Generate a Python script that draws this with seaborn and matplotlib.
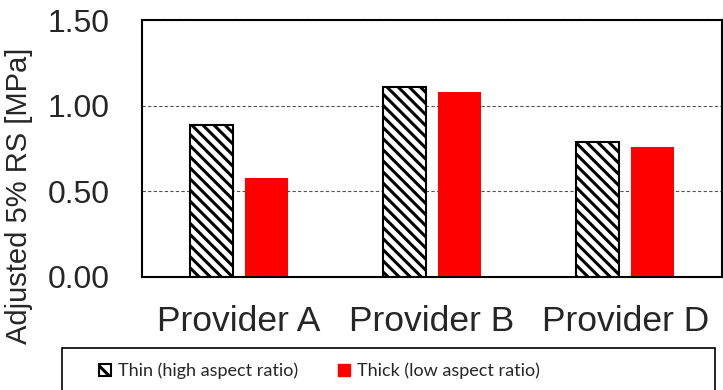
import matplotlib
matplotlib.use('Agg')
import matplotlib.pyplot as plt
import seaborn as sns
import pandas as pd
from matplotlib.patches import Patch, Rectangle

# values
providers = ['Provider A', 'Provider B', 'Provider D']
thin_vals = [0.89, 1.11, 0.79]
thick_vals = [0.58, 1.08, 0.76]
series = ['Thin (high aspect ratio)', 'Thick (low aspect ratio)']
y_ticks = [0.0, 0.5, 1.0, 1.5]


def build_frame():
    rows = []
    for p, a, b in zip(providers, thin_vals, thick_vals):
        rows.append({'provider': p, 'type': series[0], 'value': a})
        rows.append({'provider': p, 'type': series[1], 'value': b})
    return pd.DataFrame(rows)


def main():
    sns.set_style('white')
    plt.rcParams['font.family'] = ['Liberation Sans', 'DejaVu Sans']
    plt.rcParams['hatch.linewidth'] = 2.2

    df = build_frame()
    fig = plt.figure(figsize=(7.23, 3.90), dpi=100)
    ax = fig.add_axes([142 / 723, 1 - 277 / 390, 580 / 723, 257 / 390])

    sns.barplot(ax=ax, data=df, x='provider', y='value', hue='type',
                palette={series[0]: 'white', series[1]: '#ff0000'},
                width=0.57, gap=0.22, legend=False, saturation=1)

    for bar in ax.containers[0]:
        bar.set_hatch('\\\\\\')
        bar.set_edgecolor('black')
        bar.set_linewidth(1.5)
    for bar in ax.containers[1]:
        bar.set_edgecolor('#ff0000')
        bar.set_linewidth(0)

    ax.set_ylim(0, 1.5)
    ax.set_xlim(-0.5, 2.5)
    ax.set_yticks(y_ticks)
    ax.set_yticklabels([f'{v:.2f}' for v in y_ticks])
    ax.set_xlabel('')
    ax.set_ylabel('')
    ax.tick_params(axis='y', labelsize=23, length=0, pad=23)
    ax.tick_params(axis='x', labelsize=25.5, length=0, pad=20)
    ax.set_axisbelow(True)
    ax.yaxis.grid(True, linestyle=(0, (3, 2)), color='#555555', linewidth=0.8)
    for s in ax.spines.values():
        s.set_visible(True)
        s.set_color('black')
        s.set_linewidth(1.5)

    fig.text(19 / 723, 1 - 196 / 390, 'Adjusted 5% RS [MPa]', rotation=90,
             ha='center', va='center', fontsize=21)

    # legend box that runs off the bottom edge
    fig.patches.append(Rectangle((62 / 723, -0.05), (715 - 62) / 723, 0.05 + 1 - 348 / 390,
                                 transform=fig.transFigure, fill=False,
                                 edgecolor='black', linewidth=1.2))
    handles = [Patch(facecolor='white', edgecolor='black', hatch='\\', linewidth=1.5,
                     label=series[0]),
               Patch(facecolor='#ff0000', edgecolor='#ff0000', label=series[1])]
    fig.legend(handles=handles, loc='center left', bbox_to_anchor=(90 / 723, 1 - 371 / 390),
               ncol=2, frameon=False, prop={'family': 'Lato', 'size': 13},
               handlelength=0.65, handleheight=0.65, handletextpad=0.4,
               columnspacing=2.2, borderpad=0)

    fig.savefig('out.png', dpi=100)


if __name__ == "__main__":
    main()
